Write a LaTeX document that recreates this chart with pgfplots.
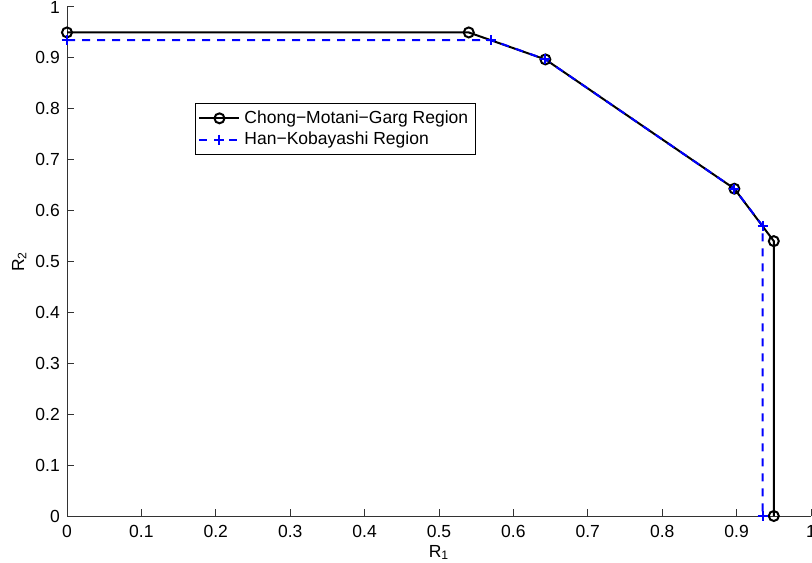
\documentclass[border=0pt]{standalone}
\usepackage{fontspec}
\setmainfont{Liberation Sans}
\usepackage{pgfplots}
\pgfplotsset{compat=1.18}
\definecolor{hkblue}{HTML}{0000FF}

\begin{document}
\fontsize{8.75bp}{10.5bp}\selectfont
\begin{tikzpicture}
\begin{axis}[
  scale only axis, width=372bp, height=254.5bp,
  xmin=0, xmax=1, ymin=0, ymax=1,
  clip=false,
  axis line style={draw=none},
  xtick pos=left, ytick pos=left,
  xtick={0,0.1,...,1}, ytick={0,0.1,...,1},
  major tick length=0pt,
  /pgf/number format/assume math mode=true,
  ticklabel style={font=\fontsize{8.75bp}{10.5bp}\selectfont},
  xticklabel style={yshift=-1.5bp},
  yticklabel style={xshift=-0.5bp},
  xlabel={R\textsubscript{1}}, ylabel={R\textsubscript{2}},
  label style={font=\fontsize{8.75bp}{10.5bp}\selectfont},
  xlabel style={yshift=2bp},
  ylabel style={yshift=-1.5bp},
  legend cell align=left,
  legend style={at={(0.172,0.811)}, anchor=north west, draw=black, line width=0.5bp,
                font=\fontsize{8.75bp}{10.5bp}\selectfont, inner sep=1.5bp,
                row sep=-1bp},
  legend image code/.code={%
    \draw[mark repeat=2, mark phase=2] plot coordinates {(0bp,0bp) (10bp,0bp) (20bp,0bp)};},
]
% axis lines: left and bottom only (box off), inward ticks
\draw[black!80, line width=0.5bp] (rel axis cs:0,1) -- (rel axis cs:0,0) -- (rel axis cs:1,0);
\pgfplotsinvokeforeach{0.1,0.2,0.3,0.4,0.5,0.6,0.7,0.8,0.9,1}{
  \draw[black!80, line width=0.5bp] (axis cs:#1,0) -- ++(0,3.5bp);
  \draw[black!80, line width=0.5bp] (axis cs:0,#1) -- ++(3.5bp,0);
}
% Chong-Motani-Garg region
\addplot[black, line width=1bp, mark=o, mark size=2.5bp, mark options={solid, line width=1bp}] coordinates
  {(0,0.95)(0.54,0.95)(0.643,0.897)(0.897,0.643)(0.95,0.54)(0.95,0)};
% Han-Kobayashi region
\addplot[hkblue, line width=1bp, dash pattern=on 4bp off 3.5bp, mark=+, mark size=2.5bp, mark options={solid, line width=1bp}] coordinates
  {(0,0.935)(0.57,0.935)(0.643,0.897)(0.897,0.643)(0.935,0.57)(0.935,0)};
\legend{Chong{\fontspec{Liberation Sans}−}Motani{\fontspec{Liberation Sans}−}Garg Region, Han{\fontspec{Liberation Sans}−}Kobayashi Region}
\end{axis}
\pgfresetboundingbox
\path[use as bounding box] (-33.5bp,-23.5bp) rectangle (372.5bp,258bp);
\end{tikzpicture}
\end{document}
